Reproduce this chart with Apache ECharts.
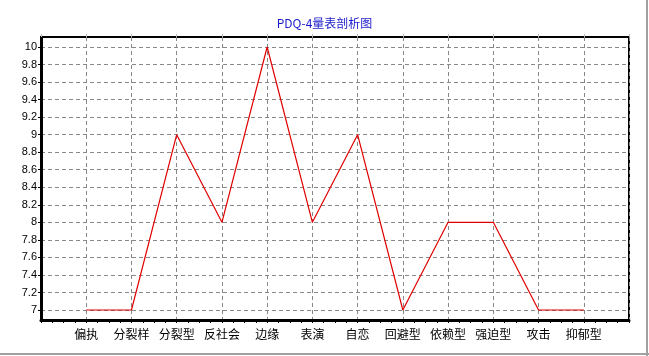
<!DOCTYPE html>
<html>
<head>
<meta charset="utf-8">
<style>
html,body{margin:0;padding:0;background:#fff;}
#c{width:649px;height:356px;}
</style>
<script src="https://cdn.jsdelivr.net/npm/echarts@6/dist/echarts.min.js"></script>
</head>
<body>
<div id="c"></div>
<script>
const categories = ['偏执','分裂样','分裂型','反社会','边缘','表演','自恋','回避型','依赖型','强迫型','攻击','抑郁型'];
const scores = [7, 7, 9, 8, 10, 8, 9, 7, 8, 8, 7, 7];
const yTicks = [7, 7.2, 7.4, 7.6, 7.8, 8, 8.2, 8.4, 8.6, 8.8, 9, 9.2, 9.4, 9.6, 9.8, 10];
const titleText = 'PDQ-4量表剖析图';

const chart = echarts.init(document.getElementById('c'));
const pts = scores.map((v, i) => [i + 1, v]);
chart.setOption({
  animation: false,
  backgroundColor: '#ffffff',
  title: {
    text: titleText, left: 'center', top: 12,
    textStyle: { color: '#1a1acc', fontSize: 12, fontWeight: 'normal', fontFamily: '"Noto Sans CJK SC", sans-serif' }
  },
  grid: { left: 41, right: 20, top: 37, bottom: 36, show: true, borderColor: '#000', borderWidth: 2, backgroundColor: 'transparent' },
  xAxis: [{
    type: 'value', min: 0, max: categories.length + 1, interval: 1, position: 'bottom',
    axisLine: { show: true, onZero: false, lineStyle: { color: '#000', width: 3 } },
    axisTick: { show: true, length: 3, lineStyle: { color: '#000' } },
    minorTick: { show: true, splitNumber: 4, length: 3, lineStyle: { color: '#000' } },
    splitLine: { show: true, lineStyle: { color: '#888', type: [4, 3], width: 1 } },
    axisLabel: {
      margin: 8, color: '#000', fontSize: 12, fontFamily: '"Noto Sans CJK SC", sans-serif',
      formatter: v => (v >= 1 && v <= categories.length) ? categories[v - 1] : ''
    }
  }, {
    type: 'value', min: 0, max: categories.length + 1, interval: 1, position: 'top',
    axisLine: { show: false },
    axisTick: { show: true, length: 3, lineStyle: { color: '#bbb' } },
    axisLabel: { show: false }, splitLine: { show: false }
  }],
  yAxis: {
    type: 'value', min: 6.886, max: 10.114,
    axisLine: { show: true, lineStyle: { color: '#000', width: 3 } },
    axisTick: { show: true, length: 3, customValues: yTicks, lineStyle: { color: '#000' } },
    splitLine: { show: true, lineStyle: { color: '#888', type: [4, 3], width: 1 } },
    axisLabel: {
      customValues: yTicks, margin: 4, color: '#000', fontSize: 11,
      fontFamily: '"Liberation Sans", Arial, sans-serif',
      formatter: v => String(Math.round(v * 10) / 10)
    }
  },
  series: [{
    type: 'line', data: pts, showSymbol: false, symbol: 'none',
    lineStyle: { color: '#e00000', width: 1.2 }, itemStyle: { color: '#e00000' }
  }],
  graphic: [
    { type: 'line', shape: { x1: 647, y1: 0, x2: 647, y2: 356 }, style: { stroke: '#a0a0a0', lineWidth: 2 } },
    { type: 'line', shape: { x1: 0, y1: 354, x2: 649, y2: 354 }, style: { stroke: '#a0a0a0', lineWidth: 2 } }
  ]
});
</script>
</body>
</html>
